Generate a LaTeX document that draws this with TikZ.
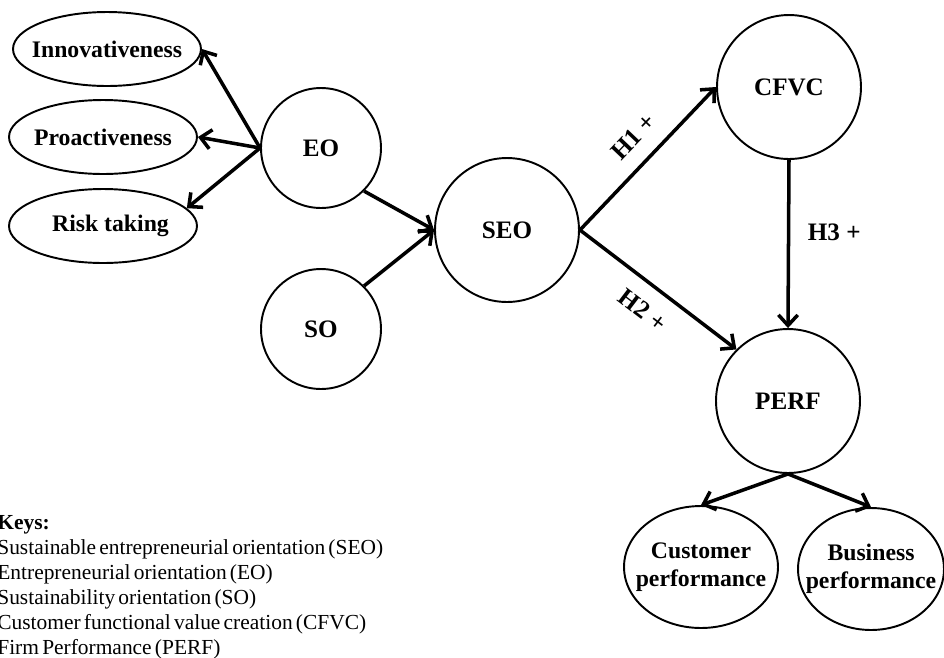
\documentclass[tikz,border=0pt]{standalone}
\usepackage{fontspec}
\setmainfont{Liberation Serif}
\newfontfamily\keyfont[WordSpace=0.6]{Liberation Serif}
\usetikzlibrary{arrows.meta,shapes.geometric}

% text of an ellipse is set with no width, so that the ellipse takes its size
% from minimum width and minimum height only
\newcommand{\slimtext}[1]{\makebox[0pt]{#1}}

\tikzset{
	construct/.style={draw, circle, line width=1.1pt, inner sep=0pt,
	  minimum size=#1, font=\fontsize{14.3}{16}\selectfont\bfseries},
	dimension/.style={draw, ellipse, line width=1.1pt, inner sep=0pt,
	  font=\fontsize{13.5}{16}\selectfont\bfseries},
	path arrow/.style={line width=2pt, -{Straight Barb[length=6pt,width=11pt]}},
	hypothesis/.style={font=\fontsize{14.3}{16}\selectfont\bfseries, inner sep=2pt},
	keytext/.style={align=left, inner sep=0pt, font=\keyfont\fontsize{12.2}{14.2}\selectfont}
}

\begin{document}
\begin{tikzpicture}[x=0.02cm, y=-0.02cm]
\useasboundingbox (0, 0) rectangle (944, 657);

% first order constructs
\node[construct=2.4cm] (eo) at (321, 148) {EO};
\node[construct=2.4cm] (so) at (321, 329) {SO};
\node[construct=2.88cm] (seo) at (507, 230) {SEO};
\node[construct=2.88cm] (cfvc) at (789, 87) {CFVC};
\node[construct=2.88cm] (perf) at (788, 401) {PERF};

% dimensions of EO and PERF
\node[dimension, minimum width=3.76cm, minimum height=1.48cm] (inno) at (107, 49) {\slimtext{Innovativeness}};
\node[dimension, minimum width=3.76cm, minimum height=1.48cm] (proa) at (103, 137) {\slimtext{Proactiveness}};
\node[dimension, minimum width=3.76cm, minimum height=1.48cm] (risk) at (103, 226) {\slimtext{\hspace{0.3cm}Risk taking}};
\node[dimension, minimum width=3.08cm, minimum height=2.44cm] (cust) at (701, 567)
	{\slimtext{\begin{tabular}{@{}c@{}}Customer\\performance\end{tabular}}};
\node[dimension, minimum width=2.92cm, minimum height=2.44cm] (busi) at (871, 569)
	{\slimtext{\begin{tabular}{@{}c@{}}Business\\performance\end{tabular}}};

% paths
\draw[path arrow] (eo.west) -- (inno.east);
\draw[path arrow] (eo.west) -- (proa.east);
\draw[path arrow] (eo.west) -- (risk.12);
\draw[path arrow] (eo.-45) -- (seo.west);
\draw[path arrow] (so.45) -- (seo.west);
\draw[path arrow] (seo.east) -- node[hypothesis, sloped, above=7pt, pos=0.53] (hone) {H1 +} (cfvc.west);
\draw[path arrow] (seo.east) -- node[hypothesis, sloped, below=7pt] (htwo) {H2 +} (perf.135);
\draw[path arrow] (cfvc.south) -- node[hypothesis, right=8pt, pos=0.43] (hthree) {H3 +} (perf.north);
\draw[path arrow] (perf.south) -- (cust.north);
\draw[path arrow] (perf.south) -- (busi.north);

% keys
\node[keytext, anchor=north west] (keys) at (-3, 515) {\textbf{Keys:}\\
Sustainable entrepreneurial orientation (SEO)\\
Entrepreneurial orientation (EO)\\
Sustainability orientation (SO)\\
Customer functional value creation (CFVC)\\
Firm Performance (PERF)};

\end{tikzpicture}
\end{document}
